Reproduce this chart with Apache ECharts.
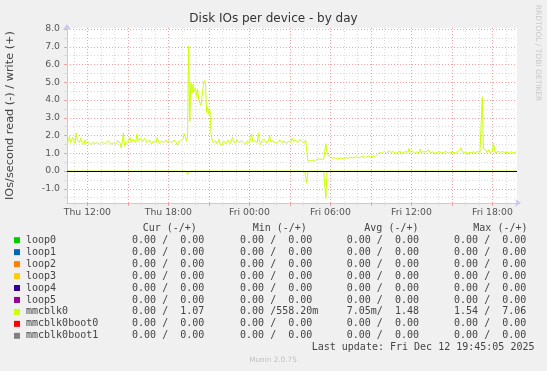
<!DOCTYPE html>
<html><head><meta charset="utf-8">
<script src="https://cdn.jsdelivr.net/npm/echarts@6/dist/echarts.min.js"></script>
<style>html,body{margin:0;padding:0;background:#f0f0f0}#c{width:547px;height:371px}</style>
</head><body><div id="c"></div>
<script>
// ---------- data ----------
const chartTitle = 'Disk IOs per device - by day';
const yAxisName = 'IOs/second read (-) / write (+)';
const startHour = 10.5;      // Thu 10:30, hours counted from Thu 00:00
const stepHour = 1 / 12;     // 5-minute samples
// mmcblk0 writes (IOs/s), one row per hour
const writes = [
  1.55, 1.7, 1.95, 1.6, 1.75, 1.9,                                   // Thu 10:30-10:55
  1.8, 1.55, 2.15, 1.75, 1.7, 1.6, 1.85, 1.65, 1.6, 1.5, 1.75, 1.6,  // Thu 11
  1.55, 1.65, 1.7, 1.5, 1.5, 1.6, 1.65, 1.55, 1.5, 1.6, 1.6, 1.5,    // Thu 12
  1.55, 1.65, 1.7, 1.55, 1.5, 1.6, 1.6, 1.7, 1.75, 1.5, 1.55, 1.6,   // Thu 13
  1.65, 1.5, 1.55, 1.7, 1.75, 1.6, 1.3, 1.65, 2.15, 1.4, 1.5, 1.65,  // Thu 14
  1.6, 1.75, 1.9, 1.6, 1.55, 1.8, 1.75, 1.6, 2.1, 1.7, 1.6, 1.85,    // Thu 15
  1.95, 1.65, 1.7, 1.85, 1.85, 1.6, 1.6, 1.75, 1.8, 1.55, 1.45, 1.7, // Thu 16
  1.75, 1.6, 1.9, 1.7, 1.55, 1.65, 1.7, 1.8, 1.6, 1.55, 1.75, 1.6,   // Thu 17
  1.55, 1.7, 1.75, 1.6, 1.6, 1.75, 1.7, 1.6, 1.45, 1.65, 1.55, 1.7,  // Thu 18
  1.65, 1.8, 2.1, 1.95, 1.7, 1.9, 7.06, 2.8, 5.0, 4.4, 4.9, 4.5,     // Thu 19
  4.7, 4.2, 4.6, 4.0, 4.1, 3.7, 3.8, 4.8, 5.1, 4.9, 3.3, 3.6,        // Thu 20
  3.2, 3.4, 2.0, 1.75, 1.6, 1.5, 1.7, 1.55, 1.65, 1.8, 1.5, 1.6,     // Thu 21
  1.5, 1.7, 1.8, 1.55, 1.6, 1.75, 1.7, 1.55, 1.6, 1.9, 1.65, 1.7,    // Thu 22
  1.6, 1.75, 1.85, 1.6, 1.55, 1.7, 1.75, 1.6, 1.6, 1.5, 1.7, 1.65,   // Thu 23
  1.6, 1.75, 2.1, 1.65, 1.55, 1.7, 1.8, 1.6, 2.15, 1.65, 1.5, 1.7,   // Fri 00
  1.65, 1.8, 1.75, 1.6, 1.6, 1.7, 2.0, 1.65, 1.55, 1.7, 1.75, 1.6,   // Fri 01
  1.7, 1.6, 1.55, 1.75, 1.8, 1.6, 1.6, 1.7, 1.75, 1.55, 1.5, 1.7,    // Fri 02
  1.7, 1.6, 1.85, 1.7, 1.6, 1.75, 1.75, 1.6, 1.65, 1.8, 1.8, 1.65,   // Fri 03
  1.7, 1.6, 1.75, 1.8, 0.57, 0.56, 0.57, 0.58, 0.6, 0.58, 0.57, 0.6, // Fri 04
  0.66, 0.65, 0.68, 0.67, 0.66, 0.68, 0.67, 0.66, 1.55, 1.05, 0.9, 0.8, // Fri 05
  0.78, 0.74, 0.72, 0.75, 0.75, 0.72, 0.7, 0.73, 0.72, 0.75, 0.74, 0.76, // Fri 06
  0.7, 0.74, 0.76, 0.73, 0.73, 0.75, 0.78, 0.76, 0.74, 0.77, 0.8, 0.78,  // Fri 07
  0.78, 0.76, 0.75, 0.8, 0.82, 0.8, 0.78, 0.83, 0.8, 0.82, 0.84, 0.8,    // Fri 08
  0.8, 0.84, 0.85, 0.82, 0.82, 0.86, 0.95, 1.0, 1.05, 0.98, 1.0, 1.02,   // Fri 09
  1.1, 1.0, 0.98, 1.05, 1.15, 1.08, 1.05, 1.12, 1.1, 1.0, 1.0, 1.08,     // Fri 10
  1.05, 1.1, 1.12, 1.0, 0.98, 1.05, 1.08, 1.1, 1.03, 1.06, 1.28, 1.05,   // Fri 11
  1.05, 1.12, 1.1, 1.0, 1.0, 1.08, 1.08, 1.03, 1.25, 1.05, 1.05, 1.1,    // Fri 12
  1.0, 1.06, 1.1, 1.2, 1.2, 1.02, 1.0, 1.08, 1.08, 1.0, 0.98, 1.05,      // Fri 13
  1.05, 1.1, 1.15, 1.02, 1.0, 1.06, 1.08, 1.1, 1.02, 1.0, 1.1, 1.05,     // Fri 14
  1.0, 1.05, 1.08, 1.02, 1.05, 1.1, 1.1, 1.2, 1.32, 1.1, 1.02, 1.05,     // Fri 15
  1.08, 1.05, 0.92, 1.05, 1.1, 1.02, 1.0, 1.08, 1.15, 1.05, 1.05, 1.1,   // Fri 16
  1.02, 1.05, 1.1, 4.19, 1.25, 1.15, 1.2, 1.05, 1.1, 1.2, 1.0, 1.1,      // Fri 17
  1.1, 1.58, 1.2, 1.0, 1.05, 1.12, 1.1, 1.05, 1.0, 1.1, 1.08, 1.05,      // Fri 18
  1.0, 1.05, 1.1, 1.02, 1.05, 1.1, 1.08, 1.0, 1.05, 1.07                 // Fri 19:00-19:45
];
// mmcblk0 reads (IOs/s), drawn below zero; one row per hour
const reads = [
  0, 0, 0, 0, 0, 0,                                   // Thu 10:30-10:55
  0, 0, 0, 0, 0, 0, 0, 0, 0, 0, 0, 0,                 // Thu 11
  0, 0, 0, 0, 0, 0, 0, 0, 0, 0, 0, 0,                 // Thu 12
  0, 0, 0, 0, 0, 0, 0, 0, 0, 0, 0, 0,                 // Thu 13
  0, 0, 0, 0, 0, 0, 0, 0, 0, 0, 0, 0,                 // Thu 14
  0, 0, 0, 0, 0, 0, 0, 0, 0, 0, 0, 0,                 // Thu 15
  0, 0, 0, 0, 0, 0, 0, 0, 0, 0, 0, 0,                 // Thu 16
  0, 0, 0, 0, 0, 0, 0, 0, 0, 0, 0, 0,                 // Thu 17
  0, 0, 0, 0, 0, 0, 0, 0, 0, 0, 0, 0,                 // Thu 18
  0, 0, 0, 0, 0, 0.2, 0.22, 0, 0, 0, 0, 0,            // Thu 19
  0, 0, 0, 0, 0, 0, 0, 0, 0, 0, 0, 0,                 // Thu 20
  0, 0, 0, 0, 0, 0, 0, 0, 0, 0, 0, 0,                 // Thu 21
  0, 0, 0, 0, 0, 0, 0, 0, 0, 0, 0, 0,                 // Thu 22
  0, 0, 0, 0, 0, 0, 0, 0, 0, 0, 0, 0,                 // Thu 23
  0.1, 0, 0, 0, 0, 0, 0, 0, 0, 0, 0, 0,               // Fri 00
  0, 0, 0, 0, 0, 0, 0, 0, 0, 0, 0, 0,                 // Fri 01
  0, 0, 0, 0, 0, 0, 0, 0, 0, 0, 0, 0,                 // Fri 02
  0, 0, 0, 0, 0, 0, 0, 0, 0, 0, 0, 0,                 // Fri 03
  0, 0, 0, 0.66, 0, 0, 0, 0, 0, 0, 0, 0,              // Fri 04
  0, 0, 0, 0, 0, 0, 0, 0, 1.54, 0, 0, 0,              // Fri 05
  0, 0, 0, 0, 0, 0, 0, 0, 0, 0, 0, 0,                 // Fri 06
  0, 0, 0, 0, 0, 0, 0, 0, 0, 0, 0, 0,                 // Fri 07
  0, 0, 0, 0, 0, 0, 0, 0, 0, 0, 0, 0,                 // Fri 08
  0, 0, 0, 0, 0, 0, 0, 0, 0, 0, 0, 0,                 // Fri 09
  0, 0, 0, 0, 0, 0, 0, 0, 0, 0, 0, 0,                 // Fri 10
  0, 0, 0, 0, 0, 0, 0, 0, 0, 0, 0, 0,                 // Fri 11
  0, 0, 0, 0, 0, 0, 0, 0, 0, 0, 0, 0,                 // Fri 12
  0, 0, 0, 0, 0, 0, 0, 0, 0, 0, 0, 0,                 // Fri 13
  0, 0, 0, 0, 0, 0, 0, 0, 0, 0, 0, 0,                 // Fri 14
  0, 0, 0, 0, 0, 0, 0, 0, 0, 0, 0, 0,                 // Fri 15
  0, 0, 0, 0, 0, 0, 0, 0, 0, 0, 0, 0,                 // Fri 16
  0, 0, 0, 0, 0, 0, 0, 0, 0, 0, 0, 0,                 // Fri 17
  0, 0, 0, 0, 0, 0, 0, 0, 0, 0, 0, 0,                 // Fri 18
  0, 0, 0, 0, 0, 0, 0, 0, 0, 0                        // Fri 19:00-19:45
];
const xMin = 10.49, xMax = 43.823;
const xTickHours = [12, 18, 24, 30, 36, 42];
const xTickLabels = ['Thu 12:00', 'Thu 18:00', 'Fri 00:00', 'Fri 06:00', 'Fri 12:00', 'Fri 18:00'];
const yMin = -1.8, yMax = 8.06;
const yTicks = [-1, 0, 1, 2, 3, 4, 5, 6, 7, 8];

const devices = ['loop0', 'loop1', 'loop2', 'loop3', 'loop4', 'loop5', 'mmcblk0', 'mmcblk0boot0', 'mmcblk0boot1'];
const devColors = ['#00CC00', '#0066B3', '#FF8000', '#FFCC00', '#330099', '#990099', '#CCFF00', '#FF0000', '#808080'];
const curRead  = [0, 0, 0, 0, 0, 0, 0, 0, 0];
const curWrite = [0, 0, 0, 0, 0, 0, 1.07, 0, 0];
const minRead  = [0, 0, 0, 0, 0, 0, 0, 0, 0];
const minWrite = [0, 0, 0, 0, 0, 0, 0.5582, 0, 0];
const avgRead  = [0, 0, 0, 0, 0, 0, 0.00705, 0, 0];
const avgWrite = [0, 0, 0, 0, 0, 0, 1.48, 0, 0];
const maxRead  = [0, 0, 0, 0, 0, 0, 1.54, 0, 0];
const maxWrite = [0, 0, 0, 0, 0, 0, 7.06, 0, 0];
const colHeaders = ['Cur (-/+)', 'Min (-/+)', 'Avg (-/+)', 'Max (-/+)'];
const lastUpdate = 'Last update: Fri Dec 12 19:45:05 2025';
const watermark = 'Munin 2.0.75';
const rrdMark = 'RRDTOOL / TOBI OETIKER';

// ---------- build ----------
const writeData = writes.map((v, i) => [startHour + i * stepHour, v]);
const readData = reads.map((v, i) => [startHour + i * stepHour, -v]);

const majorX = [], minorX = [];
for (let h = Math.ceil(xMin); h <= xMax; h++) { (h % 3 === 0 ? majorX : minorX).push(h); }
const minorY = [];
for (let v = -1.5; v < yMax; v += 1) minorY.push(v);

const MAJ = '#f2a0a0', MIN = '#dcdcdc', AX = '#c8c8ec';
const mono = '"DejaVu Sans Mono", monospace';
const sans = '"DejaVu Sans", sans-serif';

function num(v) {
  if (v === 0) return { s: '0.00', u: ' ' };
  if (Math.abs(v) < 1) return { s: (v * 1000).toFixed(2), u: 'm' };
  return { s: v.toFixed(2), u: ' ' };
}
function pad(s, n) { while (s.length < n) s = ' ' + s; return s; }
function cell(a, b) { const p = num(a), q = num(b); return pad(p.s, 6) + p.u + '/' + pad(q.s, 6) + q.u; }

const rowY0 = 240.2, rowStep = 11.95;
const cellX = [120, 228, 334.7, 442];
const headX = [142.7, 252.7, 364.3, 473.3];
const graphics = [];
function txt(x, y, text, font, fill, align) {
  const a = align || 'left';
  return { type: 'text', x: x, y: y, silent: true,
    style: { text: text, font: font, fill: fill, textAlign: a, align: a, textVerticalAlign: 'middle', verticalAlign: 'middle' } };
}
graphics.push(txt(273.5, 19, chartTitle, '12px ' + sans, '#333', 'center'));
const yName = txt(10.5, 115.5, yAxisName, '11.3px ' + sans, '#444', 'center'); yName.rotation = Math.PI / 2; graphics.push(yName);
const rrd = txt(537.5, 53, rrdMark, '7.5px ' + sans, '#c8c8c8', 'center'); rrd.rotation = -Math.PI / 2; graphics.push(rrd);
colHeaders.forEach((h, j) => graphics.push(txt(headX[j], 228.3, h, '10px ' + mono, '#444')));
devices.forEach((d, i) => {
  const y = rowY0 + i * rowStep;
  graphics.push({ type: 'rect', silent: true, shape: { x: 14, y: y - 3, width: 6, height: 6 }, style: { fill: devColors[i] } });
  graphics.push(txt(26, y, d, '10px ' + mono, '#444'));
  graphics.push(txt(cellX[0], y, cell(curRead[i], curWrite[i]), '10px ' + mono, '#444'));
  graphics.push(txt(cellX[1], y, cell(minRead[i], minWrite[i]), '10px ' + mono, '#444'));
  graphics.push(txt(cellX[2], y, cell(avgRead[i], avgWrite[i]), '10px ' + mono, '#444'));
  graphics.push(txt(cellX[3], y, cell(maxRead[i], maxWrite[i]), '10px ' + mono, '#444'));
});
graphics.push(txt(311.7, 347.3, lastUpdate, '10px ' + mono, '#444'));
graphics.push(txt(273, 360, watermark, '7.3px ' + sans, '#c0c0c0', 'center'));

const dotted = [1, 2];
const option = {
  animation: false,
  backgroundColor: '#f0f0f0',
  grid: { left: 67, top: 28, width: 450, height: 175, show: true, backgroundColor: '#ffffff', borderWidth: 0 },
  xAxis: [
    { type: 'value', min: xMin, max: xMax, position: 'bottom',
      axisLine: { show: false, onZero: false },
      axisTick: { show: true, customValues: minorX, length: 3, lineStyle: { color: MIN } },
      axisLabel: { show: false },
      splitLine: { show: true, lineStyle: { color: MIN, type: dotted, width: 1 } } },
    { type: 'value', min: xMin, max: xMax, position: 'bottom',
      axisLine: { show: true, onZero: false, symbol: ['none', 'arrow'], symbolSize: [6, 6], symbolOffset: [0, 4], lineStyle: { color: AX, width: 1 } },
      axisTick: { show: true, customValues: majorX, length: 3, lineStyle: { color: MAJ } },
      axisLabel: { show: true, customValues: xTickHours, margin: 5, color: '#555', fontSize: 9.3, fontFamily: sans,
        formatter: v => xTickLabels[xTickHours.indexOf(Math.round(v))] || '' },
      splitLine: { show: true, lineStyle: { color: MAJ, type: dotted, width: 1 } } }
  ],
  yAxis: [
    { type: 'value', min: yMin, max: yMax, position: 'left',
      axisLine: { show: false, onZero: false },
      axisTick: { show: true, customValues: minorY, length: 3, lineStyle: { color: MIN } },
      axisLabel: { show: false },
      splitLine: { show: true, lineStyle: { color: MIN, type: dotted, width: 1 } } },
    { type: 'value', min: yMin, max: yMax, position: 'left',
      axisLine: { show: true, onZero: false, symbol: ['none', 'arrow'], symbolSize: [6, 6], symbolOffset: [0, 4], lineStyle: { color: AX, width: 1 } },
      axisTick: { show: true, customValues: yTicks, length: 3, lineStyle: { color: MAJ } },
      axisLabel: { show: true, customValues: yTicks, margin: 7, color: '#555', fontSize: 9.3, fontFamily: sans,
        formatter: v => v.toFixed(1) },
      splitLine: { show: true, lineStyle: { color: MAJ, type: dotted, width: 1 } } }
  ],
  series: [
    { name: 'mmcblk0 read', type: 'line', xAxisIndex: 1, yAxisIndex: 1, data: readData, showSymbol: false, symbol: 'none',
      lineStyle: { color: '#ccff00', width: 1 }, itemStyle: { color: '#ccff00' }, z: 3 },
    { name: 'mmcblk0 write', type: 'line', xAxisIndex: 1, yAxisIndex: 1, data: writeData, showSymbol: false, symbol: 'none',
      lineStyle: { color: '#ccff00', width: 1 }, itemStyle: { color: '#ccff00' }, z: 3 },
    { name: 'zero', type: 'line', xAxisIndex: 1, yAxisIndex: 1, data: [], z: 6,
      markLine: { silent: true, symbol: 'none', label: { show: false }, animation: false,
        lineStyle: { color: '#000', width: 1, type: 'solid' }, data: [{ yAxis: 0 }] } }
  ],
  graphic: { elements: graphics }
};
const chart = echarts.init(document.getElementById('c'), null, { renderer: 'canvas' });
chart.setOption(option);
</script></body></html>
